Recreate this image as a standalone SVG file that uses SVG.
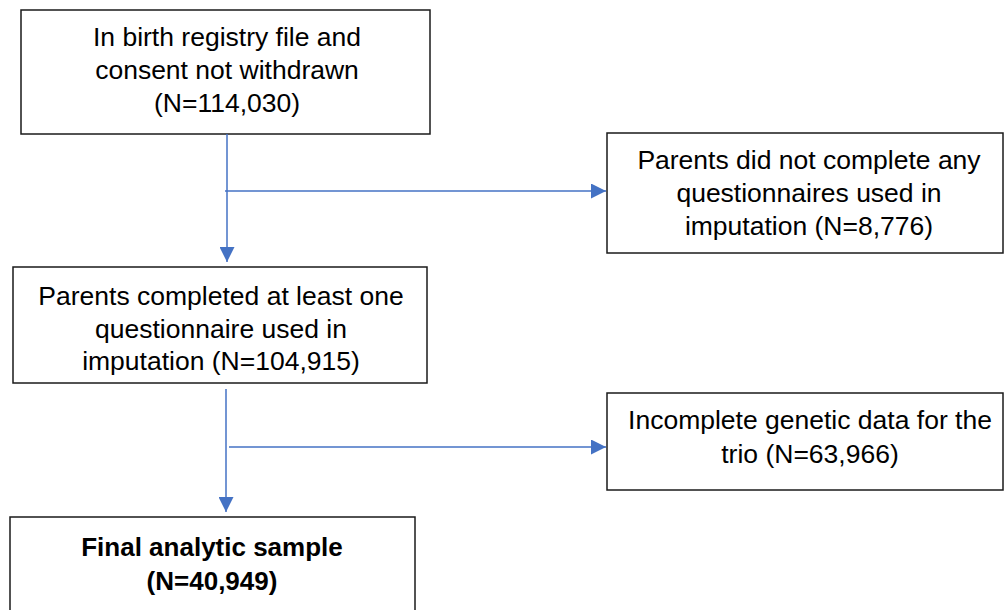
<svg xmlns="http://www.w3.org/2000/svg" width="1006" height="610" viewBox="0 0 1006 610">
<style>
.box{fill:#fff;stroke:#1a1a1a;stroke-width:1.5}
.t{font-family:"Liberation Sans",Arial,sans-serif;font-size:26.5px;fill:#000;text-anchor:middle}
.b{font-weight:bold;font-size:26px}
.c{stroke:#4472c4;stroke-width:1.5;fill:none}
</style>
<defs>
<marker id="ah" viewBox="0 0 10 10" refX="10" refY="5" markerWidth="15" markerHeight="15" markerUnits="userSpaceOnUse" orient="auto">
<path d="M0,0 L10,5 L0,10 Z" fill="#4472c4"/>
</marker>
</defs>
<rect width="1006" height="610" fill="#fff"/>
<g id="n1">
<rect class="box" x="21" y="10" width="409" height="124"/>
<text class="t" x="227" y="46">In birth registry file and</text>
<text class="t" x="227" y="79">consent not withdrawn</text>
<text class="t" x="227" y="112">(N=114,030)</text>
</g>
<g id="n2">
<rect class="box" x="607" y="133" width="396" height="120"/>
<text class="t" x="809" y="169">Parents did not complete any</text>
<text class="t" x="809" y="202">questionnaires used in</text>
<text class="t" x="809" y="235">imputation (N=8,776)</text>
</g>
<g id="n3">
<rect class="box" x="13" y="267" width="414" height="116"/>
<text class="t" x="221" y="305">Parents completed at least one</text>
<text class="t" x="221" y="338">questionnaire used in</text>
<text class="t" x="221" y="370">imputation (N=104,915)</text>
</g>
<g id="n4">
<rect class="box" x="607" y="393" width="396" height="97"/>
<text class="t" x="810" y="429">Incomplete genetic data for the</text>
<text class="t" x="810" y="463">trio (N=63,966)</text>
</g>
<g id="n5">
<rect class="box" x="10" y="517" width="405" height="100"/>
<text class="t b" x="212" y="556">Final analytic sample</text>
<text class="t b" x="212" y="590">(N=40,949)</text>
</g>
<g id="connectors">
<line class="c" x1="227" y1="134" x2="227" y2="262" marker-end="url(#ah)"/>
<line class="c" x1="225" y1="191" x2="606" y2="191" marker-end="url(#ah)"/>
<line class="c" x1="226" y1="389" x2="226" y2="512" marker-end="url(#ah)"/>
<line class="c" x1="229" y1="447" x2="606" y2="447" marker-end="url(#ah)"/>
</g>
</svg>
